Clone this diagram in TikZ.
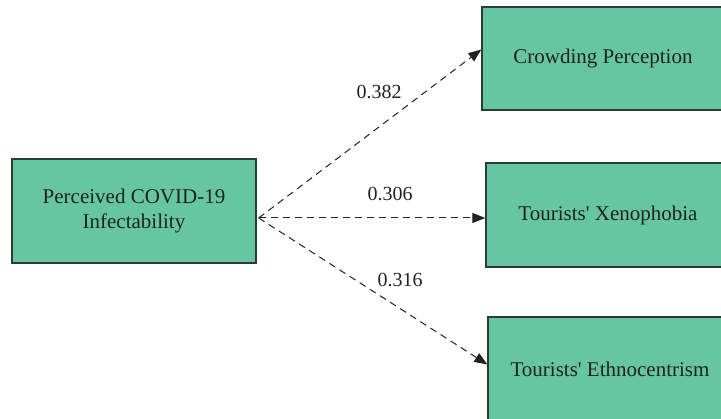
\documentclass[tikz,border=0pt]{standalone}
\usepackage{fontspec}
\setmainfont{Liberation Serif}
\usetikzlibrary{arrows.meta}
\definecolor{boxgreen}{HTML}{66C6A1}
\definecolor{boxline}{HTML}{2E3B35}
\definecolor{inkc}{HTML}{222222}
\tikzset{
  varbox/.style={draw=boxline, line width=1.3pt, fill=boxgreen, rectangle, inner sep=0pt,
    font=\fontsize{21}{25}\selectfont, text=inkc, align=center},
  patharrow/.style={draw=inkc, line width=1pt, dash pattern=on 7pt off 5pt,
    -{Triangle[length=13pt,width=10pt]}},
  coef/.style={font=\fontsize{20}{24}\selectfont, text=inkc}
}
\begin{document}
\begin{tikzpicture}[x=1pt,y=-1pt]
\clip (0,0) rectangle (721,419);
\fill[white] (0,0) rectangle (721,419);
\node[varbox, minimum width=244pt, minimum height=104pt] (src) at (134,211) {Perceived COVID-19\\Infectability};
\node[varbox, minimum width=242pt, minimum height=103pt] (crowd) at (603,58.5) {Crowding Perception};
\node[varbox, minimum width=244pt, minimum height=104pt] (xeno) at (608,215) {Tourists\textquotesingle\ Xenophobia};
\node[varbox, minimum width=244pt, minimum height=105pt] (ethno) at (610,369.5) {Tourists\textquotesingle\ Ethnocentrism};
\coordinate (o) at ([xshift=2pt,yshift=-7pt]src.east);
\draw[patharrow] (o) -- ([yshift=9pt]crowd.west);
\draw[patharrow] (o) -- ([yshift=-3pt]xeno.west);
\draw[patharrow] (o) -- ([yshift=5pt]ethno.west);
\node[coef] (c1) at (379,92) {0.382};
\node[coef] (c2) at (390,194) {0.306};
\node[coef] (c3) at (400,280) {0.316};
\end{tikzpicture}
\end{document}
